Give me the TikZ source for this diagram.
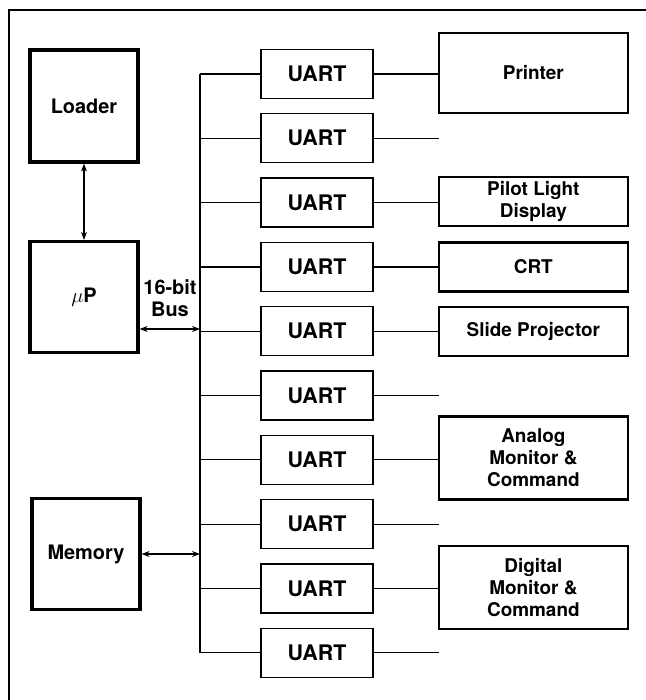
\documentclass[tikz,border=0pt]{standalone}
\usepackage{fontspec}
\setmainfont{TeX Gyre Heros}
\usepackage{tikz}
\usetikzlibrary{arrows.meta,positioning}
\tikzstyle{unit} = [rectangle, draw=black, line width=3.2bp, minimum width=108bp, minimum height=111bp, align=center]
\tikzstyle{uart} = [rectangle, draw=black, line width=1.3bp, minimum width=112bp, minimum height=49bp, align=center, font=\bfseries\fontsize{21.5}{22}\selectfont]
\tikzstyle{device} = [rectangle, draw=black, line width=2.4bp, minimum width=189bp, minimum height=49bp, align=center, font=\bfseries\fontsize{19}{22}\selectfont]
\tikzstyle{wire} = [line width=1.2bp]
\tikzstyle{dblarrow} = [{Stealth[length=8bp,width=6bp]}-{Stealth[length=8bp,width=6bp]}, line width=1.2bp]

\begin{document}
\begin{tikzpicture}[x=1bp, y=-1bp, node distance=14bp, font=\bfseries\fontsize{20}{22}\selectfont]
\useasboundingbox (0,0) rectangle (646,700);
% frame
\draw[line width=1.5bp] (9,700) -- (9,10) -- (646,10);

% left column
\node[unit, minimum height=112bp] (loader) at (84,106) {Loader};
\node[unit] (mup) at (84,297) {$\mu$P};
\node[unit] (memory) at (86,554) {Memory};

% uarts
\node[uart] (u1) at (317,74) {UART};
\node[uart, below=of u1] (u2) {UART};
\node[uart, below=of u2] (u3) {UART};
\node[uart, below=of u3] (u4) {UART};
\node[uart, below=of u4] (u5) {UART};
\node[uart, below=of u5] (u6) {UART};
\node[uart, below=of u6] (u7) {UART};
\node[uart, below=of u7] (u8) {UART};
\node[uart, below=of u8] (u9) {UART};
\node[uart, below=of u9] (u10) {UART};

% devices
\node[device, right=64bp of u1, minimum height=80bp, yshift=1bp] (printer) {Printer};
\node[device, right=64bp of u3, yshift=1bp] (pilot) {Pilot Light\\Display};
\node[device, right=64bp of u4] (crt) {CRT};
\node[device, right=64bp of u5] (slide) {Slide Projector};
\node[device, right=64bp of u7, minimum height=83bp, yshift=2bp] (analog) {Analog\\Monitor \&\\Command};
\node[device, right=64bp of u9, minimum height=83bp, yshift=1bp] (digital) {Digital\\Monitor \&\\Command};

% open ends
\coordinate[right=65bp of u2] (end2);
\coordinate[right=65bp of u6] (end6);
\coordinate[right=65bp of u8] (end8);
\coordinate[right=65bp of u10] (end10);

% bus
\coordinate (bustop) at (200,0 |- u1);
\coordinate (busbot) at (200,0 |- u10);
\coordinate (busmup) at (200,329);
\coordinate (busmem) at (200,554);
\draw[wire] (bustop) -- (busbot);
\node[align=center] (buslabel) at (170,298) {16-bit\\Bus};

\draw[wire] (u1.west -| bustop) -- (u1);
\draw[wire] (u2.west -| bustop) -- (u2);
\draw[wire] (u3.west -| bustop) -- (u3);
\draw[wire] (u4.west -| bustop) -- (u4);
\draw[wire] (u5.west -| bustop) -- (u5);
\draw[wire] (u6.west -| bustop) -- (u6);
\draw[wire] (u7.west -| bustop) -- (u7);
\draw[wire] (u8.west -| bustop) -- (u8);
\draw[wire] (u9.west -| bustop) -- (u9);
\draw[wire] (u10.west -| bustop) -- (u10);

\draw[wire] (u1) -- (u1 -| printer.west);
\draw[wire] (u2) -- (end2);
\draw[wire] (u3) -- (u3 -| pilot.west);
\draw[wire] (u4) -- (crt);
\draw[wire] (u5) -- (u5 -| slide.west);
\draw[wire] (u6) -- (end6);
\draw[wire] (u7) -- (u7 -| analog.west);
\draw[wire] (u8) -- (end8);
\draw[wire] (u9) -- (u9 -| digital.west);
\draw[wire] (u10) -- (end10);

\draw[dblarrow] (loader) -- (mup);
\draw[dblarrow] (busmup -| mup.east) -- (busmup);
\draw[dblarrow] (busmem -| memory.east) -- (busmem);
\end{tikzpicture}
\end{document}
